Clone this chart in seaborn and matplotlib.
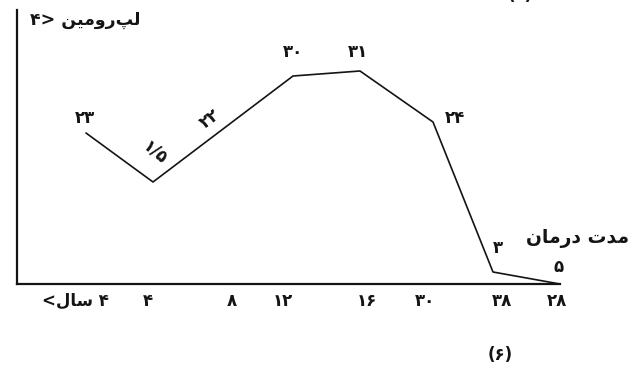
import numpy as np
import pandas as pd
import matplotlib
matplotlib.use("Agg")
import matplotlib.pyplot as plt
import seaborn as sns

# values (distance from the origin along each axis)
x_pos = [69, 136, 276, 343, 416, 476, 543]
y_val = [151, 102, 208, 213, 162, 12, 0]
point_labels = ['۲۳', '۱/۵', '۳۰', '۳۱', '۲۴', '۳', '۵']

# extra label written on the rising segment
mid_label = '۲۲'
mid_label_x = 193

# x tick labels (Persian text stored in visual order, presentation forms)
tick_pos = [58, 131, 215, 266, 350, 408, 485, 540]
tick_labels = ['<\uFEDD\uFE8E\uFEB3 ۴', '۴', '۸', '۱۲', '۱۶', '۳۰', '۳۸', '۲۸']

y_title = '۴> \uFEE6\uFBFF\uFEE3\uFEED\uFEAD\uFB57\uFEDF'           # لپرومین
x_title = '\uFEE5\uFE8E\uFEE3\uFEAD\uFEA9 \uFE95\uFEAA\uFEE3'       # مدت درمان
caption = '(۶)'
prev_caption = '(۵)'

sns.set_style('white')
plt.rcParams['font.family'] = ['DejaVu Sans']
ink = '#141414'

W, H = 637, 383
fig = plt.figure(figsize=(W / 100, H / 100), dpi=100)
ax = fig.add_axes([17 / W, (H - 284) / H, 543 / W, 274 / H])

df = pd.DataFrame({'x': x_pos, 'y': y_val})
sns.lineplot(data=df, x='x', y='y', color=ink, lw=1.2, ax=ax, sort=False)

ax.set_xlim(0, 543)
ax.set_ylim(0, 274)
ax.set_xlabel('')
ax.set_ylabel('')
ax.set_yticks([])
ax.set_xticks(tick_pos)
ax.set_xticklabels(tick_labels, fontsize=12, fontweight='bold', color=ink)
ax.tick_params(axis='x', length=0, pad=6)

for s in ['top', 'right']:
    ax.spines[s].set_visible(False)
for s in ['left', 'bottom']:
    ax.spines[s].set_color(ink)
    ax.spines[s].set_linewidth(1.6)

# labels next to each vertex (offsets in pixels)
offsets = [(-1, 15), (2, 30), (0, 24), (-2, 19), (22, 4), (5, 24), (-1, 17)]
rots = [0, -40, 0, 0, 0, 0, 0]
for x, y, lab, (dx, dy), r in zip(x_pos, y_val, point_labels, offsets, rots):
    ax.annotate(lab, (x, y), xytext=(dx, dy), textcoords='offset pixels',
                ha='center', va='center', fontsize=12, fontweight='bold',
                color=ink, rotation=r, annotation_clip=False)

mid_y = np.interp(mid_label_x, x_pos[1:3], y_val[1:3])
ax.annotate(mid_label, (mid_label_x, mid_y), xytext=(0, 20), textcoords='offset pixels',
            ha='center', va='center', fontsize=12, fontweight='bold',
            color=ink, rotation=37, annotation_clip=False)

fig.text(30 / W, 1 - 20 / H, y_title, ha='left', va='center',
         fontsize=12.5, fontweight='bold', color=ink)
fig.text(577 / W, 1 - 238 / H, x_title, ha='center', va='center',
         fontsize=13.5, fontweight='bold', color=ink)
fig.text(500 / W, 1 - 355 / H, caption, ha='center', va='center',
         fontsize=12, fontweight='bold', color=ink)
fig.text(520 / W, 1 + 5 / H, prev_caption, ha='center', va='center',
         fontsize=12, fontweight='bold', color=ink)

fig.savefig('out.png', dpi=100)
